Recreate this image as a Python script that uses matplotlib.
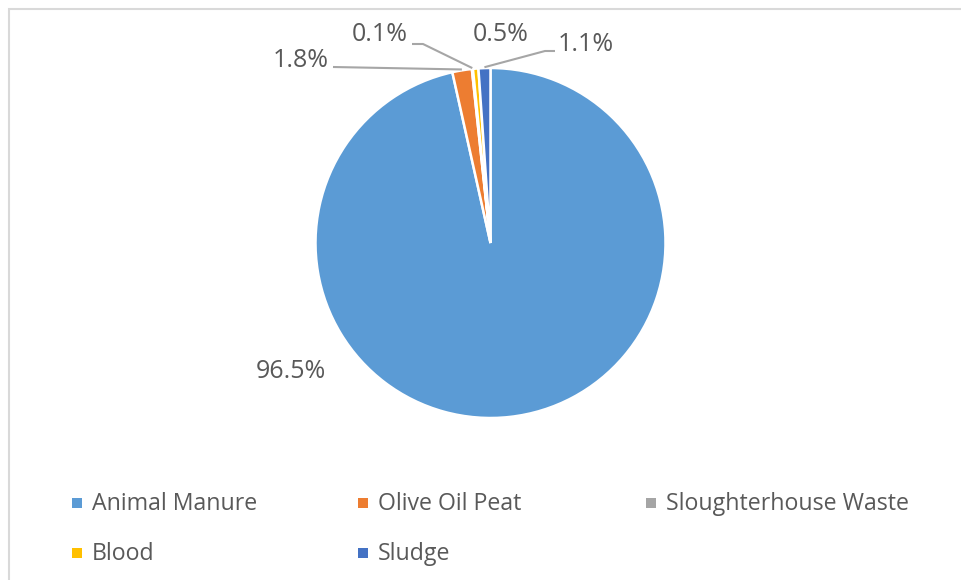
import numpy as np
import matplotlib.pyplot as plt
from matplotlib.patches import Rectangle

# feedstock shares (%)
categories = ['Animal Manure', 'Olive Oil Peat', 'Sloughterhouse Waste', 'Blood', 'Sludge']
shares = [96.5, 1.8, 0.1, 0.5, 1.1]
colors = ['#5B9BD5', '#ED7D31', '#A5A5A5', '#FFC000', '#4472C4']

plt.rcParams['font.family'] = ['Open Sans', 'DejaVu Sans']
txt_color = '#595959'
line_color = '#A6A6A6'

W, H = 961, 580
fig = plt.figure(figsize=(W / 100, H / 100), dpi=100)
ax = fig.add_axes([0, 0, 1, 1])

# pie centre and radius in pixels
R = 175.0
cx, cy = 490.5, 243.0

def px(x, y):
    # pixel (from top-left) -> data coords
    return (x - cx) / R, (cy - y) / R

wedges, _ = ax.pie(shares, colors=colors, startangle=90, counterclock=False,
                   radius=1.0, wedgeprops=dict(edgecolor='white', linewidth=1.8))
ax.set_xlim(-cx / R, (W - cx) / R)
ax.set_ylim(-(H - cy) / R, cy / R)
ax.set_aspect('auto')
ax.axis('off')

# data labels
label_pos = [(291, 378), (301, 67), (380, 41), (501, 41), (586, 51)]
for v, (lx, ly) in zip(shares, label_pos):
    x, y = px(lx, ly)
    ax.text(x, y, f'{v:.1f}%', ha='center', va='baseline', fontsize=18, color=txt_color)

def wedge_edge(w):
    a = np.deg2rad((w.theta1 + w.theta2) / 2)
    return np.cos(a), np.sin(a)

# leader lines
leaders = {1: [(333, 67)], 2: [(412, 44), (423, 44)], 4: [(555, 51), (545, 51)]}
for i, pts in leaders.items():
    xs = [px(*p)[0] for p in pts]
    ys = [px(*p)[1] for p in pts]
    ex, ey = wedge_edge(wedges[i])
    ax.plot(xs + [ex * 1.005], ys + [ey * 1.005], color=line_color, lw=1.5,
            solid_capstyle='butt')

# legend, row by row
legend_pos = [(72, 510), (358, 510), (646, 510), (72, 560), (358, 560)]
for name, c, (lx, ly) in zip(categories, colors, legend_pos):
    fig.patches.append(Rectangle((lx / W, (H - ly + 2) / H), 10 / W, 10 / H,
                                 transform=fig.transFigure, color=c, lw=0))
    fig.text((lx + 20) / W, (H - ly) / H, name, ha='left', va='baseline',
             fontsize=16.7, color=txt_color)

# chart area border
fig.patches.append(Rectangle((8.5 / W, -0.1), 1.1, (H - 8.5) / H + 0.1,
                             transform=fig.transFigure, fill=False,
                             edgecolor='#D9D9D9', lw=1.5))

fig.savefig('out.png', dpi=100, facecolor='white')
